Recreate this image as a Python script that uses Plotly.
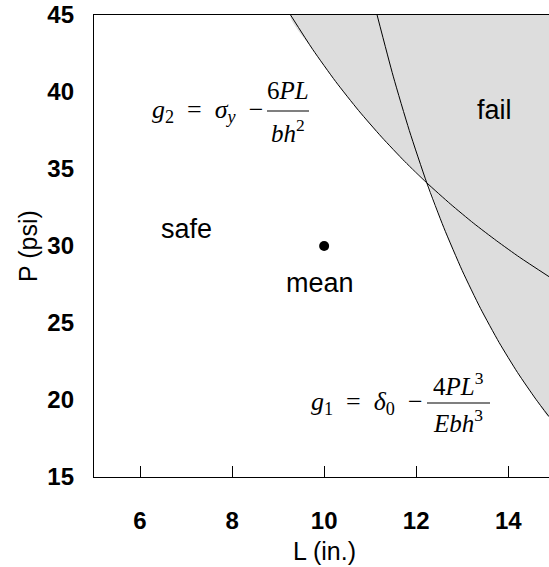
import plotly.graph_objects as go

# ---- data ----
L_range = [5, 14.885]
P_range = [15, 45]
x_ticks = [6, 8, 10, 12, 14]
y_ticks = [15, 20, 25, 30, 35, 40, 45]

# limit-state g2 (stress) boundary points
g2_L = [9.27, 9.75, 10.25, 10.75, 11.25, 11.75, 12.23, 12.75, 13.25, 13.75, 14.25, 14.885]
g2_P = [45.0, 42.77, 40.68, 38.79, 37.07, 35.49, 34.1, 32.71, 31.47, 30.33, 29.26, 28.01]

# limit-state g1 (deflection) boundary points
g1_L = [11.15, 11.5, 11.85, 12.23, 12.6, 13.0, 13.4, 13.8, 14.2, 14.6, 14.885]
g1_P = [45.0, 41.03, 37.5, 34.1, 31.19, 28.4, 25.93, 23.74, 21.79, 20.05, 18.92]

# intersection of the two curves
cross_L, cross_P = 12.23, 34.1

mean_L = [10]
mean_P = [30]

# ---- layout geometry (pixels) ----
W, H = 549, 567
ML, MR, MT, MB = 94, 0, 15, 90
PW, PH = W - ML - MR, H - MT - MB


def X(px):
    return (px - ML) / PW


def Y(py):
    return (H - MB - py) / PH


# failure region boundary: g2 up to the crossing, then g1, then top-right corner
fail_L = [l for l in g2_L if l < cross_L] + [cross_L] + [l for l in g1_L if l > cross_L] + [L_range[1], g2_L[0]]
fail_P = [p for l, p in zip(g2_L, g2_P) if l < cross_L] + [cross_P] + \
         [p for l, p in zip(g1_L, g1_P) if l > cross_L] + [P_range[1], g2_P[0]]

fig = go.Figure()
fig.add_trace(go.Scatter(x=fail_L, y=fail_P, fill="toself", fillcolor="#dddddd",
                         mode="lines", line=dict(width=0, shape="spline", smoothing=0.6),
                         hoverinfo="skip", showlegend=False))
fig.add_trace(go.Scatter(x=g2_L, y=g2_P, mode="lines",
                         line=dict(color="black", width=1, shape="spline", smoothing=0.6),
                         showlegend=False))
fig.add_trace(go.Scatter(x=g1_L, y=g1_P, mode="lines",
                         line=dict(color="black", width=1, shape="spline", smoothing=0.6),
                         showlegend=False))
fig.add_trace(go.Scatter(x=mean_L, y=mean_P, mode="markers",
                         marker=dict(color="black", size=10), showlegend=False))

SANS = "Arial, Liberation Sans, sans-serif"
SERIF = "Times New Roman, Liberation Serif, serif"
TXT = dict(family=SANS, size=27, color="black")
MATH = dict(family=SERIF, size=26, color="black")
FRAC = dict(family=SERIF, size=25, color="black")
SP = "\u2002"  # en space, mimics equation-editor spacing

ann = []
# region labels
ann.append(dict(x=X(186), y=Y(229), text="safe", font=TXT))
ann.append(dict(x=X(320), y=Y(283), text="mean", font=TXT))
ann.append(dict(x=X(494), y=Y(110), text="fail", font=TXT))

# g2 equation
ann.append(dict(x=X(265), y=Y(111),
                text=f"<i>g</i><sub>2</sub>{SP}={SP}<i>σ</i><sub><i>y</i></sub>{SP}−",
                font=MATH, xanchor="right"))
ann.append(dict(x=X(288), y=Y(90), text="6<i>PL</i>", font=FRAC))
ann.append(dict(x=X(288), y=Y(131), text="<i>bh</i><sup>2</sup>", font=FRAC))
# g1 equation
ann.append(dict(x=X(425), y=Y(403),
                text=f"<i>g</i><sub>1</sub>{SP}={SP}<i>δ</i><sub>0</sub>{SP}−",
                font=MATH, xanchor="right"))
ann.append(dict(x=X(458), y=Y(384), text="4<i>PL</i><sup>3</sup>", font=FRAC))
ann.append(dict(x=X(458), y=Y(421), text="<i>Ebh</i><sup>3</sup>", font=FRAC))

# axis titles
ann.append(dict(x=X(324), y=Y(551), text="L (in.)", font=dict(family=SANS, size=25, color="black"),
                borderpad=0))
ann.append(dict(x=X(28), y=Y(246), text="P (psi)", font=dict(family=SANS, size=25, color="black"),
                textangle=-90))

for a in ann:
    a.update(xref="paper", yref="paper", showarrow=False)
    a.setdefault("xanchor", "center")
    a.setdefault("yanchor", "middle")

shapes = [
    dict(type="line", xref="paper", yref="paper", x0=X(267), x1=X(309), y0=Y(111), y1=Y(111),
         line=dict(color="black", width=1.2)),
    dict(type="line", xref="paper", yref="paper", x0=X(427), x1=X(490), y0=Y(403), y1=Y(403),
         line=dict(color="black", width=1.2)),
]

TICKFONT = dict(family=SANS, size=24, color="black", weight="bold")

fig.update_layout(
    width=W, height=H,
    margin=dict(l=ML, r=MR, t=MT, b=MB, pad=0),
    plot_bgcolor="white", paper_bgcolor="white",
    annotations=ann, shapes=shapes,
    xaxis=dict(range=L_range, tickvals=x_ticks, ticks="inside", ticklen=11, tickcolor="black",
               tickwidth=1, showline=True, linecolor="black", linewidth=1.3, mirror=True,
               showgrid=False, zeroline=False, ticklabelstandoff=22, tickfont=TICKFONT),
    yaxis=dict(range=P_range, tickvals=y_ticks, ticks="", showline=True, linecolor="black",
               linewidth=1.3, showgrid=False, zeroline=False, ticklabelstandoff=14,
               tickfont=TICKFONT),
)

# remove the default page margin so the figure sits at the window's top-left corner
fig.write_html("out.html", config={"displayModeBar": False},
               post_script="document.body.style.margin='0';document.body.style.overflow='hidden';")
